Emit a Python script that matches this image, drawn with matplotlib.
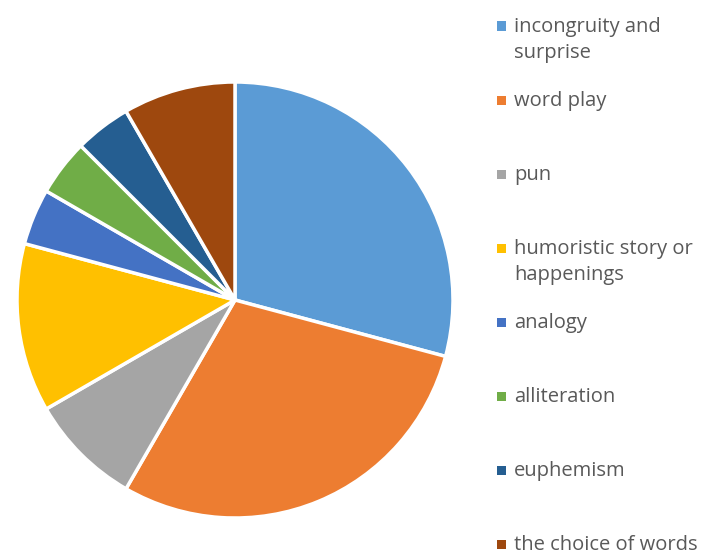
import matplotlib.pyplot as plt
from matplotlib.patches import Rectangle

labels = ["incongruity and\nsurprise", "word play", "pun", "humoristic story or\nhappenings",
          "analogy", "alliteration", "euphemism", "the choice of words"]
values = [7, 7, 2, 3, 1, 1, 1, 2]
colors = ["#5B9BD5", "#ED7D31", "#A5A5A5", "#FFC000", "#4472C4", "#70AD47", "#255E91", "#9E480E"]

W, H = 708, 554
fig = plt.figure(figsize=(W / 100, H / 100), dpi=100)
cx, cy, r = 235, 300, 218
ax = fig.add_axes([(cx - r) / W, (H - cy - r) / H, 2 * r / W, 2 * r / H])
ax.pie(values, colors=colors, startangle=90, counterclock=False,
       wedgeprops=dict(edgecolor="white", linewidth=2.5))
ax.set_xlim(-1, 1)
ax.set_ylim(-1, 1)
ax.axis("off")

# legend drawn by hand, Excel style
for i, (lab, col) in enumerate(zip(labels, colors)):
    y = 26 + i * 74
    fig.patches.append(Rectangle((497 / W, 1 - (y + 4.5) / H), 9 / W, 9 / H,
                                 transform=fig.transFigure, facecolor=col, edgecolor="none"))
    for j, line in enumerate(lab.split("\n")):
        fig.text(514 / W, 1 - (y + 1 + j * 26) / H, line, fontsize=14.5, family="Open Sans",
                 color="#595959", va="center", ha="left")

fig.savefig("out.png", dpi=100)
